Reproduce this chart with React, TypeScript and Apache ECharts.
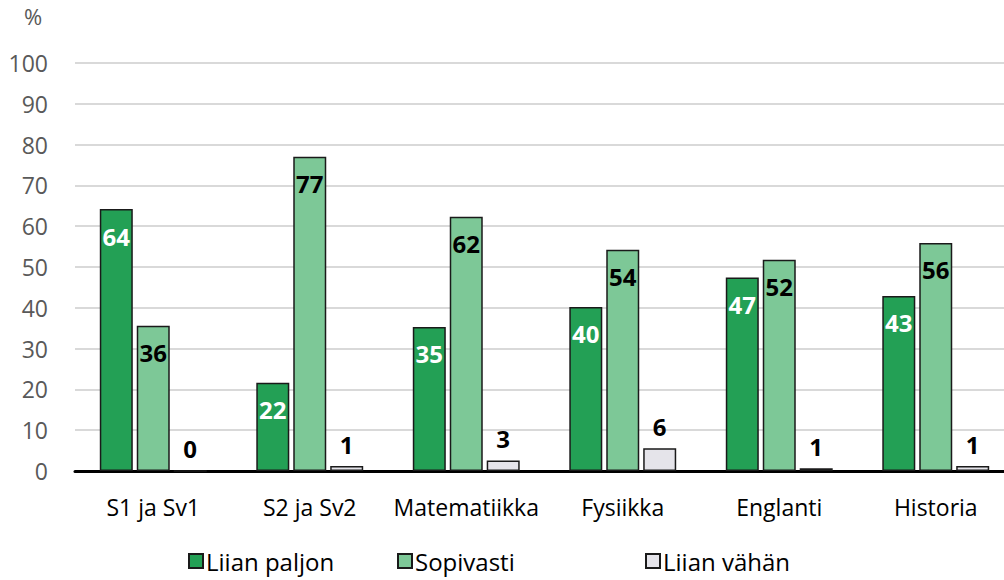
import React, { useEffect, useRef } from "react";
import * as echarts from "echarts";

const categories = ["S1 ja Sv1", "S2 ja Sv2", "Matematiikka", "Fysiikka", "Englanti", "Historia"];
const liianPaljon = [64.2, 21.6, 35.3, 40.2, 47.4, 42.9];
const sopivasti = [35.6, 77.0, 62.3, 54.2, 51.8, 55.9];
const liianVahan = [0, 1.2, 2.6, 5.6, 0.7, 1.2];
const seriesNames = ["Liian paljon", "Sopivasti", "Liian vähän"];
const colors = ["#23a055", "#7dc897", "#e5e4ea"];
const labelColors = ["#ffffff", "#000000", "#000000"];

const FONT = "'Open Sans', 'Noto Sans', sans-serif";

export default function App() {
  const ref = useRef<HTMLDivElement>(null);
  useEffect(() => {
    document.body.style.margin = "0";
    document.body.style.overflow = "hidden";
    const chart = echarts.init(ref.current!, null, { renderer: "svg" });
    const datas = [liianPaljon, sopivasti, liianVahan];
    const legendLefts = [188, 397, 645];
    chart.setOption({
      animation: false,
      textStyle: { fontFamily: FONT },
      grid: { left: 75, top: 63, width: 939, height: 408 },
      graphic: [
        {
          type: "text",
          left: 24,
          top: 5,
          style: { text: "%", fill: "#595959", font: `22px ${FONT}` },
        },
      ],
      legend: seriesNames.map((n, i) => ({
        data: [n],
        left: legendLefts[i],
        top: 549,
        padding: 0,
        itemWidth: 14,
        itemHeight: 14,
        itemGap: 6,
        icon: "rect",
        textStyle: { fontSize: 24, color: "#000", fontFamily: FONT, padding: [0, 0, 0, -2] },
      })),
      xAxis: {
        type: "category",
        data: categories,
        axisLine: { lineStyle: { color: "#000", width: 3 } },
        axisTick: { show: false },
        axisLabel: { color: "#000", fontSize: 23, margin: 24, interval: 0, fontFamily: FONT },
      },
      yAxis: {
        type: "value",
        min: 0,
        max: 100,
        interval: 10,
        axisLine: { show: false },
        axisTick: { show: false },
        splitLine: { lineStyle: { color: "#d9d9d9", width: 2 } },
        axisLabel: { color: "#595959", fontSize: 23, margin: 27, fontFamily: FONT },
      },
      series: datas.map((d, i) => ({
        name: seriesNames[i],
        type: "bar",
        data: d,
        barWidth: 33,
        barGap: "12%",
        itemStyle: { color: colors[i], borderColor: "#1a1a1a", borderWidth: 1.5 },
        label: {
          show: true,
          position: i === 2 ? "top" : "insideTop",
          distance: i === 2 ? 10 : 15,
          color: labelColors[i],
          fontWeight: "bold",
          fontSize: 24,
          fontFamily: FONT,
          formatter: (p: any) => String(Math.round(p.value)),
        },
      })),
    });
    return () => chart.dispose();
  }, []);
  return (
    <div style={{ width: 1004, height: 580, overflow: "hidden" }}>
      <div ref={ref} style={{ width: 1024, height: 580 }} />
    </div>
  );
}
